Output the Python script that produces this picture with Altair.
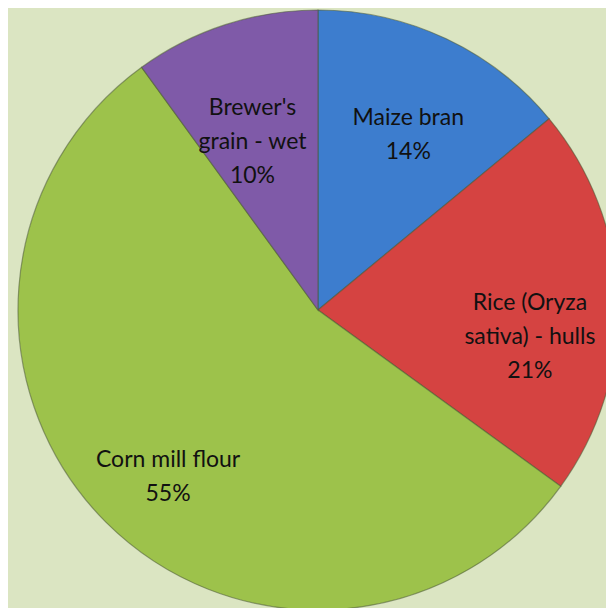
import altair as alt
import pandas as pd

categories = ["Maize bran", "Rice (Oryza sativa) - hulls", "Corn mill flour", "Brewer's grain - wet"]
label_lines = ["Maize bran", "Rice (Oryza\nsativa) - hulls", "Corn mill flour", "Brewer's\ngrain - wet"]
values = [14, 21, 55, 10]
colors = ["#3d7dce", "#d54341", "#9dc24b", "#7f5aa8"]

df = pd.DataFrame({
    "category": categories,
    "value": values,
    "order": list(range(len(categories))),
    "label": [f"{l}\n{v}%" for l, v in zip(label_lines, values)],
})

base = alt.Chart(df).encode(
    theta=alt.Theta("value:Q", stack=True),
    order=alt.Order("order:Q"),
    x=alt.value(310),
    y=alt.value(302),
)

pie = base.mark_arc(radius=300, stroke="#4a5a35", strokeWidth=1.2, strokeOpacity=0.55).encode(
    color=alt.Color("category:N", scale=alt.Scale(domain=categories, range=colors), legend=None)
)

text = base.mark_text(radius=212, font="Lato", fontSize=23, lineBreak="\n", lineHeight=34,
                      color="#111111", align="center", baseline="middle").encode(
    text="label:N"
)

chart = (pie + text).properties(
    width=598, height=600, background="#dbe5c2", padding=0,
    autosize=alt.AutoSizeParams(type="none"),
).configure_view(stroke=None)

chart.save("out.html", embed_options={"renderer": "svg", "actions": False})
